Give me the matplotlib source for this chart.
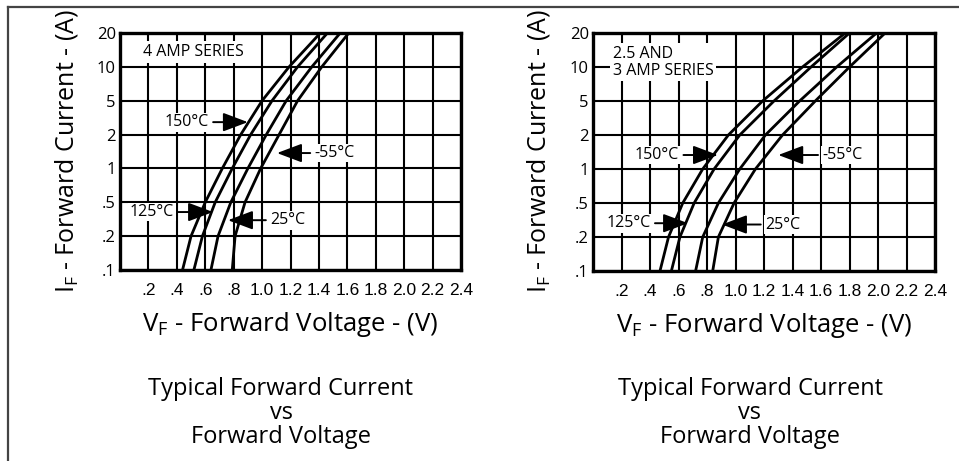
import numpy as np
import matplotlib
matplotlib.use("Agg")
import matplotlib.pyplot as plt
from matplotlib.lines import Line2D

# y axis of the datasheet: equally spaced steps .1 .2 .5 1 2 5 10 20
tick_amps = [0.1, 0.2, 0.5, 1, 2, 5, 10, 20]
tick_amp_labels = [".1", ".2", ".5", "1", "2", "5", "10", "20"]
tick_volts = [0.2, 0.4, 0.6, 0.8, 1.0, 1.2, 1.4, 1.6, 1.8, 2.0, 2.2, 2.4]
tick_volt_labels = [".2", ".4", ".6", ".8", "1.0", "1.2", "1.4", "1.6", "1.8", "2.0", "2.2", "2.4"]

# forward voltage (V) at each current in tick_amps
# 4 amp series
v4_150 = [0.44, 0.50, 0.60, 0.72, 0.85, 1.00, 1.19, 1.41]
v4_125 = [0.52, 0.58, 0.67, 0.79, 0.92, 1.07, 1.25, 1.46]
v4_25 = [0.64, 0.69, 0.78, 0.90, 1.03, 1.17, 1.35, 1.55]
v4_m55 = [0.79, 0.81, 0.88, 0.99, 1.12, 1.25, 1.42, 1.61]
# 2.5 and 3 amp series
v3_150 = [0.47, 0.53, 0.63, 0.77, 0.95, 1.19, 1.47, 1.77]
v3_125 = [0.55, 0.61, 0.71, 0.85, 1.03, 1.27, 1.53, 1.80]
v3_25 = [0.72, 0.77, 0.88, 1.03, 1.21, 1.45, 1.71, 1.99]
v3_m55 = [0.84, 0.88, 0.99, 1.14, 1.33, 1.56, 1.80, 2.05]

logs = np.log10(tick_amps)
steps = np.arange(len(tick_amps))


def fwd(y):
    y = np.clip(np.asarray(y, dtype=float), 1e-6, None)
    return np.interp(np.log10(y), logs, steps)


def inv(p):
    return 10 ** np.interp(p, steps, logs)


body = ["Open Sans", "DejaVu Sans"]
narrow = ["Liberation Sans Narrow", "Liberation Sans", "DejaVu Sans"]
plt.rcParams["font.family"] = body
plt.rcParams["mathtext.fontset"] = "custom"
plt.rcParams["mathtext.rm"] = "Open Sans"

fig = plt.figure(figsize=(9.59, 4.61), dpi=100)

# scan frame: only top and left edges show
fig.add_artist(Line2D([8 / 959, 1], [1 - 7 / 461, 1 - 7 / 461], color="#444444", lw=1.6,
                      transform=fig.transFigure))
fig.add_artist(Line2D([8 / 959, 8 / 959], [0, 1 - 7 / 461], color="#444444", lw=1.6,
                      transform=fig.transFigure))


def panel(rect, curves, series_text, series_pos, notes, ylab_px):
    ax = fig.add_axes(rect)
    ax.set_yscale("function", functions=(fwd, inv))
    ax.set_xlim(0, 2.4)
    ax.set_ylim(0.1, 20)
    ax.set_xticks(tick_volts)
    ax.set_xticklabels(tick_volt_labels, family=narrow, fontsize=12.5)
    ax.set_yticks(tick_amps)
    ax.set_yticklabels(tick_amp_labels, fontsize=12)
    ax.tick_params(length=0, pad=3)
    ax.tick_params(axis="x", pad=9)
    ax.grid(True, color="black", lw=1.5)
    ax.set_axisbelow(True)
    for s in ax.spines.values():
        s.set_linewidth(2.4)

    for v in curves:
        ax.plot(v, tick_amps, color="black", lw=2.0, solid_joinstyle="round")

    ax.text(series_pos[0], series_pos[1], series_text, fontsize=11.5, ha="left", va="center",
            linespacing=1.05, bbox=dict(facecolor="white", edgecolor="none", pad=2), zorder=4)

    for label, tip, txt in notes:
        ax.annotate(label, xy=tip, xytext=txt, fontsize=11.5, ha="center", va="center",
                    bbox=dict(facecolor="white", edgecolor="none", pad=1),
                    arrowprops=dict(arrowstyle="-|>,head_length=0.85,head_width=0.32",
                                    mutation_scale=18, color="black", lw=1.4,
                                    shrinkA=2, shrinkB=0),
                    zorder=4)

    ax.set_xlabel(r"V$_\mathregular{F}$ - Forward Voltage - (V)", fontsize=18.5, labelpad=9)
    # y label centred at a fixed pixel column, like the scan
    fig.text(ylab_px / 959, 1 - 151 / 461, r"I$_\mathregular{F}$ - Forward Current - (A)",
             rotation=90, ha="center", va="center", fontsize=18)
    return ax


panel([120 / 959, 1 - 270 / 461, 341 / 959, 237 / 461],
      [v4_150, v4_125, v4_25, v4_m55],
      "4 AMP SERIES", (0.16, 13.5),
      [("150°C", (0.90, 2.8), (0.47, 2.8)),
       ("-55°C", (1.105, 1.37), (1.51, 1.37)),
       ("125°C", (0.655, 0.384), (0.225, 0.384)),
       ("25°C", (0.76, 0.308), (1.18, 0.308))],
      67)

panel([593 / 959, 1 - 271 / 461, 342 / 959, 238 / 461],
      [v3_150, v3_125, v3_25, v3_m55],
      "2.5 AND\n3 AMP SERIES", (0.14, 11),
      [("150°C", (0.877, 1.33), (0.45, 1.33)),
       ("-55°C", (1.30, 1.33), (1.75, 1.33)),
       ("125°C", (0.667, 0.29), (0.25, 0.29)),
       ("25°C", (0.905, 0.28), (1.33, 0.28))],
      538)

caption = "Typical Forward Current\nvs\nForward Voltage"
fig.text(281 / 959, 1 - 413 / 461, caption, ha="center", va="center", fontsize=17,
         linespacing=1.0)
fig.text(750 / 959, 1 - 413 / 461, caption, ha="center", va="center", fontsize=17,
         linespacing=1.0)

fig.savefig("out.png", dpi=100)
